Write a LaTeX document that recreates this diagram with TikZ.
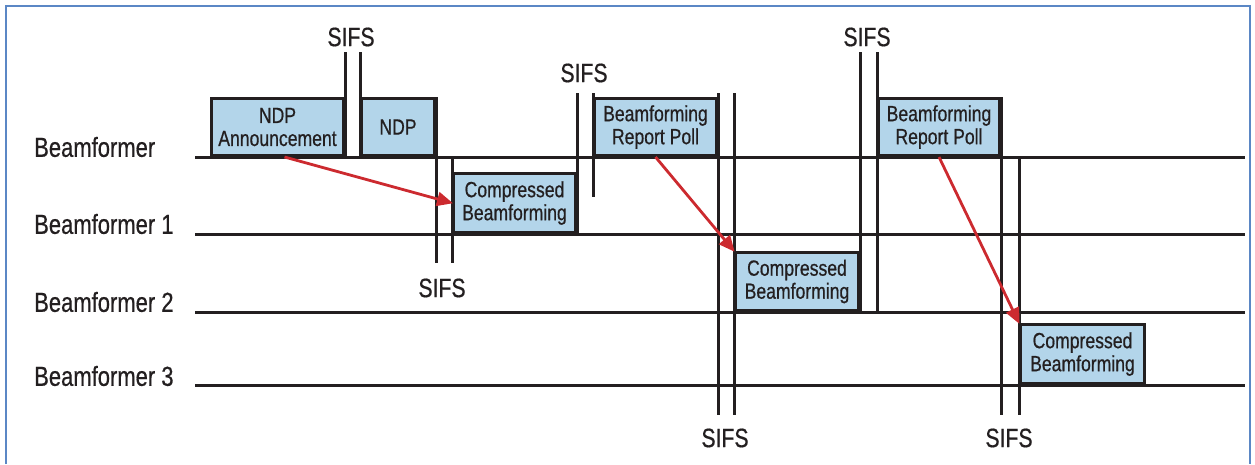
\documentclass[tikz,border=0pt]{standalone}
\usepackage{fontspec}
\setmainfont[FakeStretch=0.8,FakeBold=0.6]{Liberation Sans}
\usetikzlibrary{arrows.meta}
\definecolor{boxfill}{HTML}{B3D5EA}
\definecolor{arrred}{HTML}{CC2A2F}
\definecolor{frameblue}{HTML}{5B87C5}
\definecolor{ink}{HTML}{231F20}
\tikzset{
  tl/.style={line width=3pt, draw=ink},
  pkt/.style={draw=ink, line width=3pt, fill=boxfill, anchor=south west, inner sep=0pt,
    align=center, text=ink, font=\fontsize{22}{23}\selectfont},
  rowlab/.style={anchor=west, text=ink, font=\fontsize{27.5}{30}\selectfont, inner sep=0pt},
  sifs/.style={text=ink, font=\fontsize{26.5}{28}\selectfont, inner sep=0pt},
  req/.style={draw=arrred, line width=2.8pt, -{Triangle[length=16pt,width=14pt]}, shorten >=-1pt}
}
\begin{document}
\begin{tikzpicture}[x=1pt,y=-1pt]
\useasboundingbox (0,0) rectangle (1255,464);
% frame
\draw[frameblue, line width=2pt] (6,464) -- (6,6) -- (1250,6) -- (1250,464);

% row labels
\node[rowlab] (r0) at (34,147) {Beamformer};
\node[rowlab] (r1) at (34,224) {Beamformer 1};
\node[rowlab] (r2) at (34,302) {Beamformer 2};
\node[rowlab] (r3) at (34,376) {Beamformer 3};

% timelines
\coordinate (t0a) at (195,157); \coordinate (t0b) at (1245,157);
\coordinate (t1a) at (195,234); \coordinate (t1b) at (1245,234);
\coordinate (t2a) at (195,312); \coordinate (t2b) at (1245,312);
\coordinate (t3a) at (195,385); \coordinate (t3b) at (1245,385);
\draw[tl] (t0a) -- (t0b);
\draw[tl] (t1a) -- (t1b);
\draw[tl] (t2a) -- (t2b);
\draw[tl] (t3a) -- (t3b);

% packets
\node[pkt, minimum width=132pt, minimum height=57pt] (ndpa) at (210,157) {NDP\\Announcement};
\node[pkt, minimum width=73pt, minimum height=57pt] (ndp) at (360,157) {NDP};
\node[pkt, minimum width=122pt, minimum height=59pt] (cb1) at (452,234) {Compressed\\Beamforming};
\node[pkt, minimum width=122pt, minimum height=57pt] (brp1) at (593,157) {Beamforming\\Report Poll};
\node[pkt, minimum width=123pt, minimum height=58pt] (cb2) at (734,312) {Compressed\\Beamforming};
\node[pkt, minimum width=121pt, minimum height=57pt] (brp2) at (877,157) {Beamforming\\Report Poll};
\node[pkt, minimum width=124pt, minimum height=59pt] (cb3) at (1019,385) {Compressed\\Beamforming};

% SIFS boundary lines
\draw[tl] (ndpa.south east) -- (ndpa.south east |- 0,52);
\draw[tl] (ndp.south west) -- (ndp.south west |- 0,52);
\draw[tl] (ndp.north east) -- (ndp.north east |- 0,263);
\draw[tl] (cb1.north west |- 0,157) -- (cb1.north west |- 0,263);
\draw[tl] (cb1.south east) -- (cb1.south east |- 0,93);
\draw[tl] (brp1.north west |- 0,93) -- (brp1.north west |- 0,197);
\draw[tl] (brp1.north east |- 0,93) -- (brp1.north east |- 0,415);
\draw[tl] (cb2.north west |- 0,93) -- (cb2.north west |- 0,415);
\draw[tl] (cb2.south east) -- (cb2.south east |- 0,52);
\draw[tl] (brp2.north west |- 0,52) -- (brp2.north west |- 0,312);
\draw[tl] (brp2.north east) -- (brp2.north east |- 0,415);
\draw[tl] (cb3.north west |- 0,157) -- (cb3.north west |- 0,415);

% SIFS labels
\node[sifs] (s1) at (351,37) {SIFS};
\node[sifs] (s2) at (584,73) {SIFS};
\node[sifs] (s3) at (867,37) {SIFS};
\node[sifs] (s4) at (442,288) {SIFS};
\node[sifs] (s5) at (725,438) {SIFS};
\node[sifs] (s6) at (1009,438) {SIFS};

% request arrows
\draw[req] ([xshift=7pt]ndpa.south) -- (cb1.west);
\draw[req] (brp1.south) -- (cb2.north west);
\draw[req] (brp2.south) -- (cb3.north west);
\end{tikzpicture}
\end{document}
